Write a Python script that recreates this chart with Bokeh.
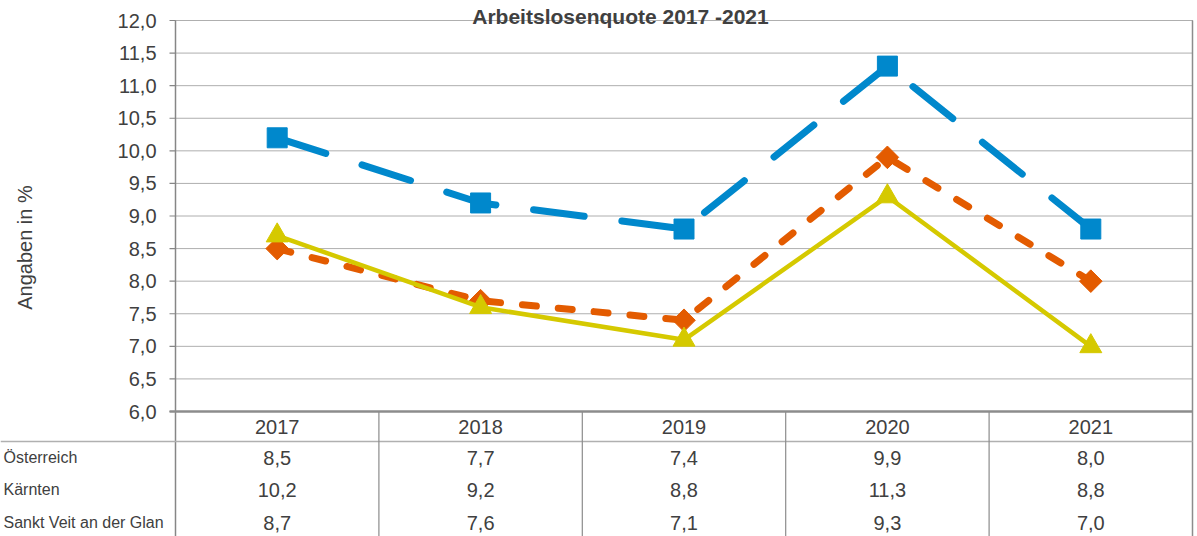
import math
from bokeh.plotting import figure
from bokeh.models import Range1d, ColumnDataSource
from bokeh.embed import file_html
from bokeh.resources import INLINE
from bokeh.core.properties import value

# ---------------- data ----------------
years = ["2017", "2018", "2019", "2020", "2021"]
oesterreich = [8.5, 7.7, 7.4, 9.9, 8.0]
kaernten = [10.2, 9.2, 8.8, 11.3, 8.8]
st_veit = [8.7, 7.6, 7.1, 9.3, 7.0]
series_names = ["Österreich", "Kärnten", "Sankt Veit an der Glan"]
y_ticks = [6.0, 6.5, 7.0, 7.5, 8.0, 8.5, 9.0, 9.5, 10.0, 10.5, 11.0, 11.5, 12.0]
title_text = "Arbeitslosenquote 2017 -2021"
y_label = "Angaben in %"

# ---------------- layout / style ----------------
FONT = value("Liberation Sans")
TXT = "#404040"
AXIS = "#868686"
BLUE = "#0088CC"
ORANGE = "#E35B00"
YELLOW = "#D5C900"
W, H = 1197, 536
PLOT_L, PLOT_R, PLOT_T, PLOT_B = 175, 1192, 20, 411
Y0, Y1 = y_ticks[0], y_ticks[-1]
n = len(years)
px_x = (PLOT_R - PLOT_L) / n
px_y = (PLOT_B - PLOT_T) / (Y1 - Y0)


def dx(pix):
    return (pix - PLOT_L) / px_x


def dy(pix):
    return Y1 - (pix - PLOT_T) / px_y


xs = [i + 0.5 for i in range(n)]
src = ColumnDataSource(dict(x=xs, oe=oesterreich, kt=kaernten, sv=st_veit))

p = figure(width=W, height=H, output_backend="svg", toolbar_location=None,
           x_range=Range1d(dx(0), dx(W)), y_range=Range1d(dy(H), dy(0)),
           min_border=0, x_axis_location=None, y_axis_location=None,
           outline_line_color=None, background_fill_color="white",
           border_fill_color="white")
p.grid.visible = False

# ---- gridlines (dotted) ----
grid_y = [v for v in y_ticks if v > Y0]
p.segment(x0=[0] * len(grid_y), y0=grid_y, x1=[n] * len(grid_y), y1=grid_y,
          line_color="#5e5e5e", line_width=1, line_dash="1 1")

# ---- y axis (line, ticks, labels, title) ----
p.segment(x0=[0], y0=[Y1], x1=[0], y1=[dy(H)], line_color=AXIS, line_width=1.5)
p.segment(x0=[dx(PLOT_L - 6)] * len(y_ticks), y0=y_ticks, x1=[0] * len(y_ticks),
          y1=y_ticks, line_color=AXIS, line_width=1.2)
p.text(x=[0] * len(y_ticks), y=y_ticks,
       text=[f"{v:.1f}".replace(".", ",") for v in y_ticks],
       x_offset=-19, text_align="right", text_baseline="middle",
       text_font=FONT, text_font_size="20px", text_color=TXT)
p.text(x=[dx(24)], y=[dy(247)], text=[y_label], angle=math.pi / 2,
       text_align="center", text_baseline="middle",
       text_font=FONT, text_font_size="20px", text_color=TXT)

# ---- chart title ----
p.text(x=[dx(620)], y=[dy(16)], text=[title_text], text_align="center",
       text_baseline="alphabetic", text_font=FONT, text_font_size="21px",
       text_font_style="bold", text_color=TXT)

# ---- x axis line and right border ----
p.segment(x0=[dx(PLOT_L - 6)], y0=[Y0], x1=[n], y1=[Y0], line_color="#8c8c8c",
          line_width=2.5)
p.segment(x0=[n], y0=[Y1], x1=[n], y1=[dy(H)], line_color="#8c8c8c", line_width=1.5)

# ---- series ----
p.line("x", "oe", source=src, line_color=ORANGE, line_width=7, line_dash="14 22",
       line_cap="round", line_join="round")
p.scatter("x", "oe", source=src, marker="square", angle=math.pi / 4, size=16,
          fill_color=ORANGE, line_color=ORANGE)
p.line("x", "kt", source=src, line_color=BLUE, line_width=7, line_dash="51 38",
       line_cap="round", line_join="round")
p.scatter("x", "kt", source=src, marker="square", size=20,
          fill_color=BLUE, line_color=BLUE)
p.line("x", "sv", source=src, line_color=YELLOW, line_width=4.5, line_join="round")
p.scatter("x", "sv", source=src, marker="triangle", size=22,
          fill_color=YELLOW, line_color=YELLOW)

# ---- data table ----
HEADER_LINE = 441
HEADER_Y = 426
ROW_Y = [457, 489, 522]
p.segment(x0=[dx(0)], y0=[dy(HEADER_LINE)], x1=[n], y1=[dy(HEADER_LINE)],
          line_color="#b0b0b0", line_width=1.5)
inner = list(range(1, n))
p.segment(x0=inner, y0=[Y0] * len(inner), x1=inner, y1=[dy(H)] * len(inner),
          line_color="#8c8c8c", line_width=1.2)

p.text(x=xs, y=[dy(HEADER_Y)] * n, text=years, text_align="center",
       text_baseline="middle", text_font=FONT, text_font_size="20px", text_color=TXT)
for vals, ry in zip([oesterreich, kaernten, st_veit], ROW_Y):
    p.text(x=xs, y=[dy(ry)] * n, text=[f"{v:.1f}".replace(".", ",") for v in vals],
           text_align="center", text_baseline="middle",
           text_font=FONT, text_font_size="20px", text_color=TXT)
p.text(x=[dx(3)] * 3, y=[dy(r) for r in ROW_Y], text=series_names, text_align="left",
       text_baseline="middle", text_font=FONT, text_font_size="16px", text_color=TXT)

open("out.html", "w").write(file_html(p, INLINE))
